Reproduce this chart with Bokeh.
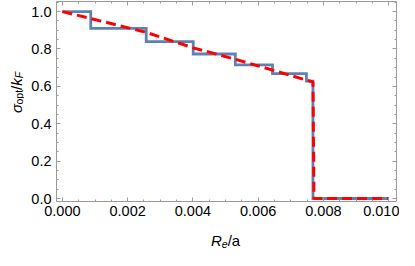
import math
from bokeh.plotting import figure
from bokeh.layouts import row, column
from bokeh.models import (Range1d, LinearAxis, SingleIntervalTicker, Label,
                          PrintfTickFormatter, CustomJSTickFormatter)
from bokeh.embed import file_html
from bokeh.resources import INLINE

# Blue staircase (step edges and levels)
step_x = [0.0, 0.00087, 0.00257, 0.00401, 0.0053, 0.00644, 0.00748, 0.00768, 0.0100]
step_y = [1.0, 0.910, 0.839, 0.773, 0.715, 0.668, 0.628, 0.0, 0.0]

# Red dashed curve
curve_x = [0.0, 0.00087, 0.00257, 0.00401, 0.0053, 0.00644, 0.00768, 0.00771, 0.0100]
curve_y = [1.0, 0.963, 0.889, 0.806, 0.745, 0.687, 0.623, 0.0, 0.0]

FONT = "Liberation Sans"
FRAME = "#9a9a9a"
TICK_FS = "14.5px"

W, H = 399, 250
YLAB_W = 24
XLAB_H = 28
MAIN_W, MAIN_H = W - YLAB_W, H - XLAB_H

p = figure(width=MAIN_W, height=MAIN_H, output_backend="svg", toolbar_location=None,
           x_range=Range1d(-0.00018, 0.01024), y_range=Range1d(-0.016, 1.054),
           min_border_left=32, min_border_right=3, min_border_top=1, min_border_bottom=21)
p.xgrid.visible = False
p.ygrid.visible = False
p.outline_line_color = None
p.background_fill_color = "white"
p.border_fill_color = "white"

p.step(step_x, step_y, mode="after", line_color="#5E81B5", line_width=2.8, line_join="miter")
p.line(curve_x, curve_y, line_color="#FF0000", line_width=3, line_dash="10 5")

def style(ax, labels=True):
    ax.axis_line_color = FRAME
    ax.axis_line_width = 1
    ax.major_tick_line_color = FRAME
    ax.minor_tick_line_color = FRAME
    ax.major_tick_in = 4
    ax.major_tick_out = 0
    ax.minor_tick_in = 2
    ax.minor_tick_out = 0
    ax.major_label_text_font = FONT
    ax.major_label_text_font_size = TICK_FS
    ax.major_label_text_color = "black"
    if not labels:
        ax.formatter = CustomJSTickFormatter(code="return ''")
        ax.major_label_text_color = None
        ax.major_label_standoff = 0

xt = lambda: SingleIntervalTicker(interval=0.002, num_minor_ticks=4)
yt = lambda: SingleIntervalTicker(interval=0.2, num_minor_ticks=4)

p.xaxis.ticker = xt()
p.yaxis.ticker = yt()
p.xaxis.formatter = PrintfTickFormatter(format="%.3f")
p.yaxis.formatter = PrintfTickFormatter(format="%.1f")
style(p.xaxis[0])
style(p.yaxis[0])
p.xaxis.major_label_standoff = 4
p.yaxis.major_label_standoff = 5

top = LinearAxis(ticker=xt())
right = LinearAxis(ticker=yt())
style(top, False)
style(right, False)
p.add_layout(top, "above")
p.add_layout(right, "right")

def label_fig(w, h):
    f = figure(width=w, height=h, output_backend="svg", toolbar_location=None,
               x_axis_type=None, y_axis_type=None,
               x_range=Range1d(0, w), y_range=Range1d(0, h), min_border=0)
    f.grid.visible = False
    f.outline_line_color = None
    f.background_fill_color = "white"
    f.border_fill_color = "white"
    return f

# y-axis title: sigma_opt/k_F (rotated)
ylab = label_fig(YLAB_W, MAIN_H)
xb, yb = 15.5, MAIN_H - 101
for txt, size, style_, xo, yo in [("σ", "15px", "italic", 0, -20.5),
                                   ("opt", "10.5px", "normal", 3, -12.0),
                                   ("/", "15px", "normal", 0, 2.6),
                                   ("k", "15px", "italic", 0, 6.8),
                                   ("F", "10.5px", "italic", 3, 14.2)]:
    ylab.add_layout(Label(x=xb, y=yb, text=txt, text_font=FONT, text_font_size=size,
                          text_font_style=style_, x_offset=xo, y_offset=yo, angle=math.pi / 2,
                          text_align="left", text_baseline="alphabetic", text_color="black"))

# x-axis title: R_e/a
xlab = label_fig(W, XLAB_H)
xa, ya = 225, 10
for txt, size, style_, xo, yo in [("R", "15px", "italic", -14.5, 0),
                                   ("e", "10.5px", "italic", -3.8, -3),
                                   ("/a", "15px", "normal", 2.2, 0)]:
    xlab.add_layout(Label(x=xa, y=ya, text=txt, text_font=FONT, text_font_size=size,
                          text_font_style=style_, x_offset=xo, y_offset=yo,
                          text_align="left", text_baseline="alphabetic", text_color="black"))

layout = column(row(ylab, p, spacing=0), xlab, spacing=0)
open("out.html", "w").write(file_html(layout, INLINE))
